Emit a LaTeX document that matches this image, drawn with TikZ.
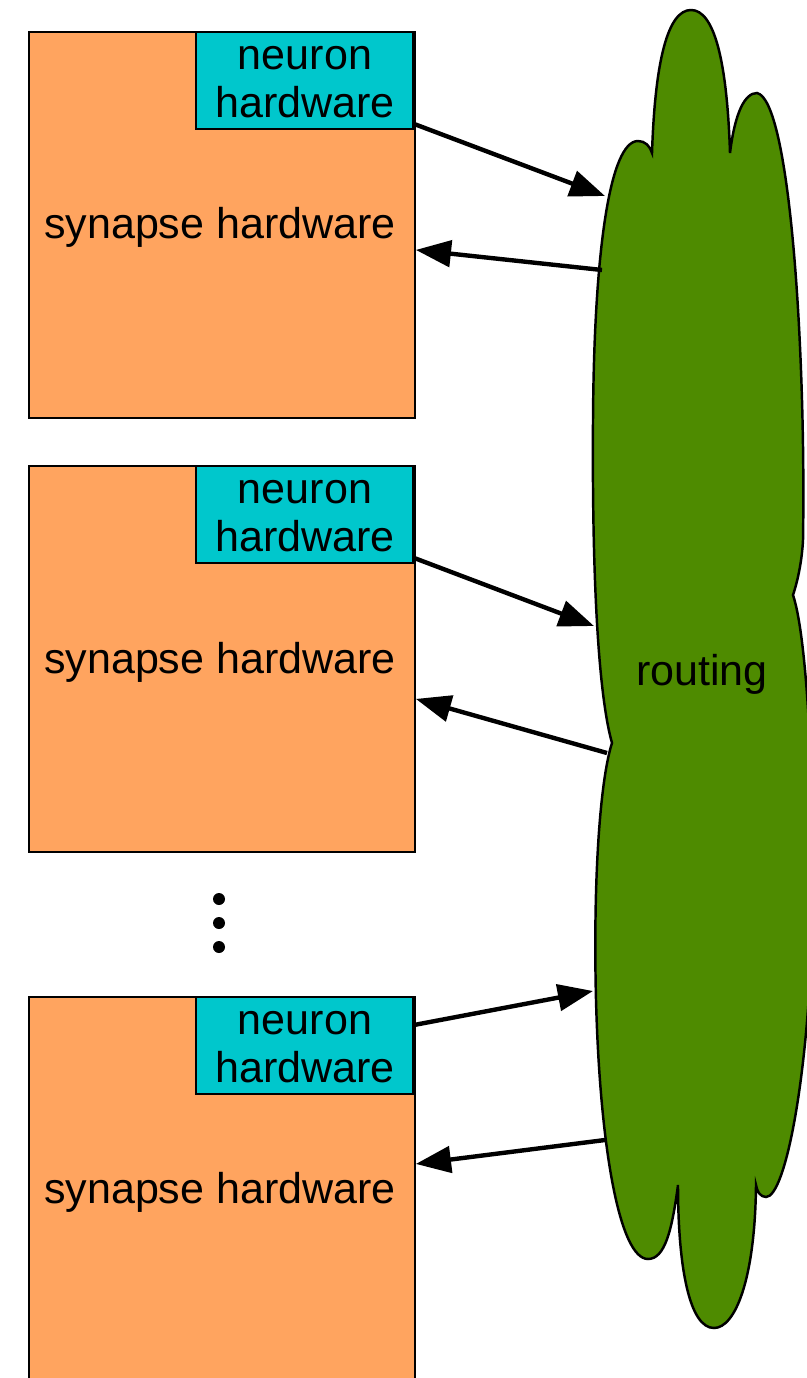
\documentclass[tikz,border=0pt]{standalone}
\usepackage{fontspec}
\setmainfont{Liberation Sans}
\usetikzlibrary{arrows.meta}
\definecolor{synorange}{HTML}{FFA45F}
\definecolor{neucyan}{HTML}{00C7CC}
\definecolor{routegreen}{HTML}{4E8B00}
\begin{document}
\begin{tikzpicture}[x=0.02cm,y=-0.02cm,
  lbl/.style={font=\fontsize{24.5}{27.2}\selectfont,inner sep=0pt},
  synbox/.style={draw=black,line width=1.1pt,fill=synorange,minimum width=7.72cm,minimum height=7.72cm,anchor=north west,inner sep=0pt},
  neubox/.style={draw=black,line width=1.1pt,fill=neucyan,minimum width=4.34cm,minimum height=1.94cm,anchor=north east,inner sep=0pt},
  link/.style={line width=2.5pt,-{Triangle[length=20pt,width=15pt]}},
  dotmark/.style={circle,fill=black,inner sep=0pt,minimum size=0.24cm},
  cloudshape/.style={draw=black,line width=1.4pt,fill=routegreen}]
\useasboundingbox (0,0) rectangle (807,1378);
\clip (0,0) rectangle (807,1378);

% synapse boxes
\node[synbox] (syn1) at (28,31) {};
\node[synbox] (syn2) at (28,465) {};
\node[synbox] (syn3) at (28,996) {};
\node[lbl] (syn1t) at (220,227) {synapse hardware};
\node[lbl] (syn2t) at (220,662) {synapse hardware};
\node[lbl] (syn3t) at (220,1192) {synapse hardware};
% neuron boxes
\node[neubox] (neu1) at (414,31) {};
\node[neubox] (neu2) at (414,465) {};
\node[neubox] (neu3) at (414,996) {};
\node[lbl,align=center] (neu1t) at (305,82) {neuron\\hardware};
\node[lbl,align=center] (neu2t) at (305,516) {neuron\\hardware};
\node[lbl,align=center] (neu3t) at (305,1047) {neuron\\hardware};

% vertical ellipsis
\node[dotmark] (d1) at (219,899) {};
\node[dotmark] (d2) at (219,923) {};
\node[dotmark] (d3) at (219,947) {};

% routing cloud
\path[cloudshape]
  (652,153) .. controls (655,60) and (668,10) .. (691,10)
  .. controls (714,10) and (727,60) .. (730,153)
  .. controls (735,112) and (745,93) .. (757,93)
  .. controls (790,100) and (806,350) .. (803,540)
  .. controls (802,560) and (798,580) .. (793,595)
  .. controls (808,640) and (815,800) .. (812,930)
  .. controls (808,1080) and (785,1197) .. (766,1197)
  .. controls (760,1197) and (757,1191) .. (756,1185)
  .. controls (755,1280) and (735,1328) .. (714,1328)
  .. controls (690,1328) and (678,1270) .. (678,1185)
  .. controls (672,1230) and (665,1259) .. (648,1259)
  .. controls (620,1259) and (600,1150) .. (596,1000)
  .. controls (593,880) and (600,780) .. (612,743)
  .. controls (597,690) and (592,560) .. (593,420)
  .. controls (594,250) and (610,141) .. (638,141)
  .. controls (645,141) and (650,146) .. (652,153) -- cycle;
\node[lbl] (routing) at (702,674) {routing};

% cloud attachment points
\coordinate (r1in) at (605,196);
\coordinate (r1out) at (602,270);
\coordinate (r2in) at (594,626);
\coordinate (r2out) at (607,753);
\coordinate (r3in) at (593,991);
\coordinate (r3out) at (605,1140);

% connectors
\draw[link] ([yshift=0.12cm]neu1.south east) -- (r1in);
\draw[link] (r1out) -- ([yshift=-0.5cm]syn1.east);
\draw[link] ([yshift=0.12cm]neu2.south east) -- (r2in);
\draw[link] (r2out) -- ([yshift=-0.8cm]syn2.east);
\draw[link] ([yshift=-0.58cm]neu3.north east) -- (r3in);
\draw[link] (r3out) -- ([yshift=0.52cm]syn3.east);
\end{tikzpicture}
\end{document}
